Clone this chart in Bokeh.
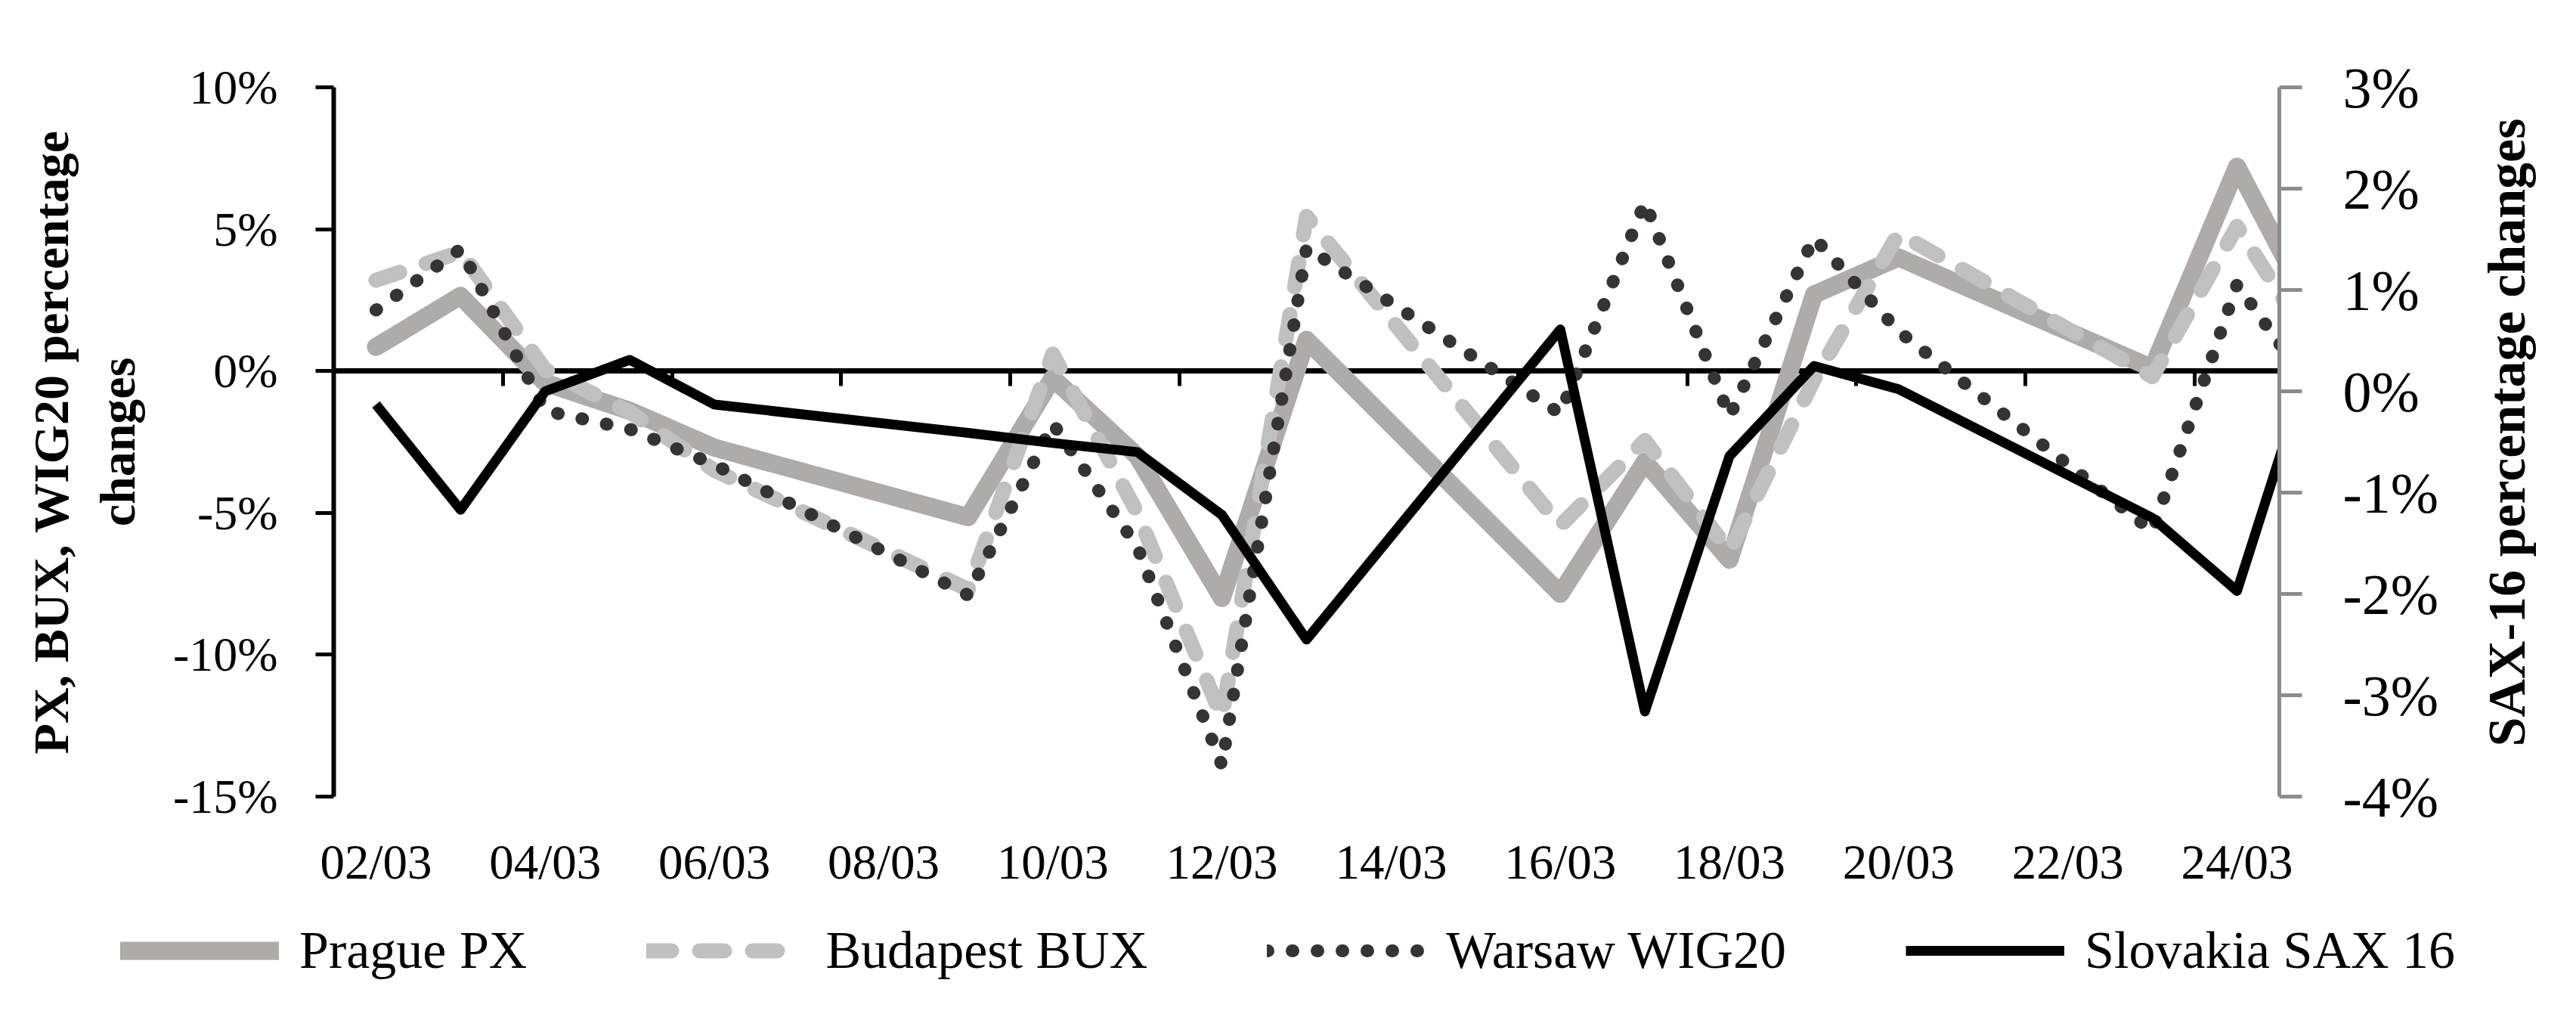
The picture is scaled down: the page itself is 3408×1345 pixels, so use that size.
import math
from datetime import datetime
from bokeh.plotting import figure
from bokeh.layouts import column, row
from bokeh.models import (Range1d, LinearAxis, DatetimeAxis, FixedTicker,
                          PrintfTickFormatter, Legend, LegendItem, ColumnDataSource, Label)
from bokeh.embed import file_html
from bokeh.resources import INLINE

# ---------------- data (percentage changes) ----------------
dates = ["2020-03-02", "2020-03-03", "2020-03-04", "2020-03-05", "2020-03-06",
         "2020-03-09", "2020-03-10", "2020-03-11", "2020-03-12", "2020-03-13",
         "2020-03-16", "2020-03-17", "2020-03-18", "2020-03-19", "2020-03-20",
         "2020-03-23", "2020-03-24", "2020-03-25"]
prague_px = [0.85, 2.65, -0.42, -1.4, -2.7, -5.15, -0.25, -3.0, -8.0, 1.1,
             -7.85, -3.2, -6.65, 2.7, 4.0, 0.1, 7.2, 1.5]
budapest_bux = [3.2, 4.2, 0.05, -1.45, -3.5, -7.7, 0.6, -5.0, -12.2, 5.45,
                -5.45, -2.45, -6.35, -0.3, 4.85, -0.2, 5.1, 0.4]
warsaw_wig20 = [2.15, 4.3, -1.4, -2.05, -3.3, -7.9, -1.85, -6.2, -13.9, 4.35,
                -1.5, 5.95, -1.6, 4.7, 1.4, -5.65, 3.05, -1.1]
slovakia_sax16 = [-0.13, -1.17, 0.0, 0.31, -0.13, -0.41, -0.51, -0.6, -1.22, -2.45,
                  0.61, -3.16, -0.64, 0.25, 0.02, -1.25, -1.97, 0.65]

x_label_dates = ["2020-03-02", "2020-03-04", "2020-03-06", "2020-03-08", "2020-03-10",
                 "2020-03-12", "2020-03-14", "2020-03-16", "2020-03-18", "2020-03-20",
                 "2020-03-22", "2020-03-24"]
x_tick_labels = ["02/03", "04/03", "06/03", "08/03", "10/03", "12/03", "14/03",
                 "16/03", "18/03", "20/03", "22/03", "24/03"]
left_ticks = [-15, -10, -5, 0, 5, 10]
right_ticks = [-4, -3, -2, -1, 0, 1, 2, 3]
series_names = ["Prague PX", "Budapest BUX", "Warsaw WIG20", "Slovakia SAX 16"]
series_cols = ["px", "bux", "wig", "sax"]
left_title = "PX, BUX, WIG20 percentage\nchanges"
right_title = "SAX-16 percentage changes"

# ---------------- styles ----------------
FONT = "Liberation Serif"
STYLES = [
    dict(line_color="#AEABAA", line_width=24, line_cap="round", line_join="round"),
    dict(line_color="#C0C0C0", line_width=20, line_dash="33 37", line_cap="round", line_join="round"),
    dict(line_color="#363334", line_width=17, line_dash="1 32", line_cap="round", line_join="round"),
    dict(line_color="black", line_width=13, line_join="round"),
]

# ---------------- helpers ----------------
EPOCH = datetime(1970, 1, 1)


def ms(dt):
    return (dt - EPOCH).total_seconds() * 1000.0


def parse(d):
    return datetime.strptime(d, "%Y-%m-%d")


HALF_DAY = 12 * 3600 * 1000.0
DAY = 2 * HALF_DAY

x = [parse(d) for d in dates]
label_ms = [ms(parse(d)) for d in x_label_dates]
boundary_ms = [label_ms[0] - HALF_DAY + k * DAY for k in range(0, 24, 2)] + [label_ms[-1] + HALF_DAY]

src = ColumnDataSource(dict(x=x, px=prague_px, bux=budapest_bux, wig=warsaw_wig20, sax=slovakia_sax16))

# ---------------- layout sizes ----------------
TOTAL_W, TOTAL_H = 3392, 1329
MAIN_W, MAIN_H = 3260, 1200
TITLE_W = TOTAL_W - MAIN_W
LEG_H = TOTAL_H - MAIN_H

# ---------------- main chart ----------------
p = figure(width=MAIN_W, height=MAIN_H, x_axis_type="datetime",
           output_backend="svg", toolbar_location=None,
           x_range=Range1d(label_ms[0] - HALF_DAY, label_ms[-1] + HALF_DAY),
           y_range=Range1d(left_ticks[0], left_ticks[-1]),
           min_border_left=441, min_border_right=245,
           min_border_top=115, min_border_bottom=147)
p.extra_y_ranges = {"sax": Range1d(right_ticks[0], right_ticks[-1])}
p.outline_line_color = None
p.xgrid.visible = False
p.ygrid.visible = False
p.background_fill_color = "white"
p.border_fill_color = "white"

# bottom axis: labels only
bx = p.xaxis[0]
bx.ticker = FixedTicker(ticks=label_ms)
bx.major_label_overrides = {t: s for t, s in zip(label_ms, x_tick_labels)}
bx.axis_line_color = None
bx.major_tick_line_color = None
bx.minor_tick_line_color = None
bx.major_label_standoff = 44
bx.major_label_text_font = FONT
bx.major_label_text_font_size = "65px"
bx.major_label_text_color = "black"

# axis line at 0 with tick marks between the days
zx = DatetimeAxis(ticker=FixedTicker(ticks=[], minor_ticks=boundary_ms), fixed_location=0)
zx.axis_line_color = "black"
zx.axis_line_width = 7
zx.major_tick_line_color = None
zx.minor_tick_line_color = "black"
zx.minor_tick_line_width = 5
zx.minor_tick_in = 20
zx.minor_tick_out = 0
zx.level = "underlay"
p.add_layout(zx, "above")

# left axis
ly = p.yaxis[0]
ly.ticker = FixedTicker(ticks=left_ticks)
ly.formatter = PrintfTickFormatter(format="%d%%")
ly.axis_line_width = 6
ly.axis_line_color = "black"
ly.major_tick_line_width = 5
ly.major_tick_line_color = "black"
ly.major_tick_out = 24
ly.major_tick_in = 0
ly.minor_tick_line_color = None
ly.major_label_standoff = 50
ly.major_label_text_font = FONT
ly.major_label_text_font_size = "64px"
ly.major_label_text_color = "black"
ly.axis_label = left_title
ly.axis_label_text_font = FONT
ly.axis_label_text_font_style = "bold"
ly.axis_label_text_font_size = "66px"
ly.axis_label_text_color = "black"
ly.axis_label_standoff = 34

# right axis (SAX-16 scale)
ry = LinearAxis(y_range_name="sax", ticker=FixedTicker(ticks=right_ticks),
                formatter=PrintfTickFormatter(format="%d%%"))
ry.axis_line_width = 5
ry.axis_line_color = "#8c8c8c"
ry.major_tick_line_width = 5
ry.major_tick_line_color = "#8c8c8c"
ry.major_tick_out = 30
ry.major_tick_in = 0
ry.minor_tick_line_color = None
ry.major_label_standoff = 54
ry.major_label_text_font = FONT
ry.major_label_text_font_size = "76px"
ry.major_label_text_color = "black"
p.add_layout(ry, "right")

# series (drawn in the reference's order: PX, BUX, WIG20, SAX 16)
renderers = []
for col, st in zip(series_cols, STYLES):
    if col == "sax":
        renderers.append(p.line("x", col, source=src, y_range_name="sax", **st))
    else:
        renderers.append(p.line("x", col, source=src, **st))

# ---------------- right title panel (reads bottom-to-top) ----------------
tf = figure(width=TITLE_W, height=MAIN_H, output_backend="svg", toolbar_location=None,
            x_range=Range1d(0, TITLE_W), y_range=Range1d(0, MAIN_H),
            x_axis_location=None, y_axis_location=None, min_border=0)
tf.outline_line_color = None
tf.grid.visible = False
tf.add_layout(Label(x=56, y=MAIN_H - 584, text=right_title, angle=math.pi / 2,
                    text_align="center", text_baseline="middle",
                    text_font=FONT, text_font_style="bold", text_font_size="70px",
                    text_color="black"))

# ---------------- legend panel ----------------
# legend swatches: the same series, drawn in a panel whose ranges keep them off-screen
lf = figure(width=TOTAL_W, height=LEG_H, output_backend="svg", toolbar_location=None,
            x_range=Range1d(0, 1), y_range=Range1d(0, 1),
            x_axis_location=None, y_axis_location=None, min_border=0)
lf.outline_line_color = None
lf.grid.visible = False
proxies = [lf.line("x", col, source=src, **st) for col, st in zip(series_cols, STYLES)]
legend = Legend(items=[LegendItem(label=n, renderers=[r]) for n, r in zip(series_names, proxies)],
                orientation="horizontal", location=(159, 32),
                glyph_width=210, glyph_height=30, label_standoff=27, spacing=158,
                padding=0, margin=0, border_line_color=None, background_fill_alpha=0,
                label_text_font=FONT, label_text_font_size="70px", label_text_color="black")
lf.add_layout(legend)

layout = column(row(p, tf), lf)
open("out.html", "w").write(file_html(layout, INLINE))
